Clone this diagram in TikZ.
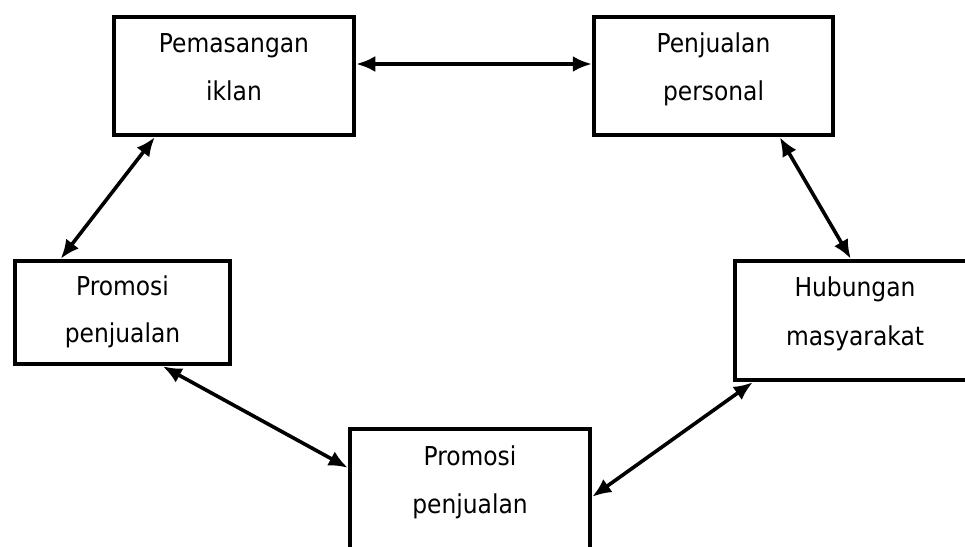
\documentclass[tikz,border=0pt]{standalone}
\usepackage{fontspec}
\setmainfont{DejaVu Sans Condensed}
\usetikzlibrary{arrows.meta}
\tikzset{
  box/.style={draw=black, line width=4.5pt, fill=white, rectangle, inner sep=0pt},
  lbl/.style={anchor=base, inner sep=0pt, font=\fontsize{26}{30}\selectfont},
  link/.style={line width=3.6pt, {Latex[length=19pt,width=16pt]}-{Latex[length=19pt,width=16pt]}}
}
\begin{document}
\begin{tikzpicture}[x=1pt,y=-1pt]
\useasboundingbox (0,0) rectangle (965,546);
\clip (0,0) rectangle (965,546);
\fill[white] (0,0) rectangle (965,546);
% boxes
\node[box, minimum width=240pt, minimum height=118pt] (b1) at (234,76) {};
\node[box, minimum width=239pt, minimum height=118pt] (b2) at (713.5,76) {};
\node[box, minimum width=215pt, minimum height=103pt] (b3) at (122.5,312.5) {};
\node[box, minimum width=240pt, minimum height=119pt] (b4) at (855,320.5) {};
\node[box, minimum width=240pt, minimum height=131pt] (b5) at (470,494.5) {};
% texts
\node[lbl] (t1a) at ([yshift=-38pt]b1.north) {Pemasangan};
\node[lbl] (t1b) at ([yshift=-86pt]b1.north) {iklan};
\node[lbl] (t2a) at ([yshift=-38pt]b2.north) {Penjualan};
\node[lbl] (t2b) at ([yshift=-86pt]b2.north) {personal};
\node[lbl] (t3a) at ([yshift=-37pt]b3.north) {Promosi};
\node[lbl] (t3b) at ([yshift=-84pt]b3.north) {penjualan};
\node[lbl] (t4a) at ([yshift=-38pt]b4.north) {Hubungan};
\node[lbl] (t4b) at ([yshift=-87pt]b4.north) {masyarakat};
\node[lbl] (t5a) at ([yshift=-39pt]b5.north) {Promosi};
\node[lbl] (t5b) at ([yshift=-87pt]b5.north) {penjualan};
% connectors
\draw[link] ([yshift=12pt]b1.east) -- ([yshift=12pt]b2.west);
\draw[link] ([xshift=43pt]b1.south west) -- ([xshift=48pt]b3.north west);
\draw[link] ([xshift=188pt]b2.south west) -- ([xshift=118pt]b4.north west);
\draw[link] ([xshift=150pt]b3.south west) -- ([yshift=-41pt]b5.north west);
\draw[link] ([yshift=-70pt]b5.north east) -- ([xshift=20pt]b4.south west);
\end{tikzpicture}
\end{document}
